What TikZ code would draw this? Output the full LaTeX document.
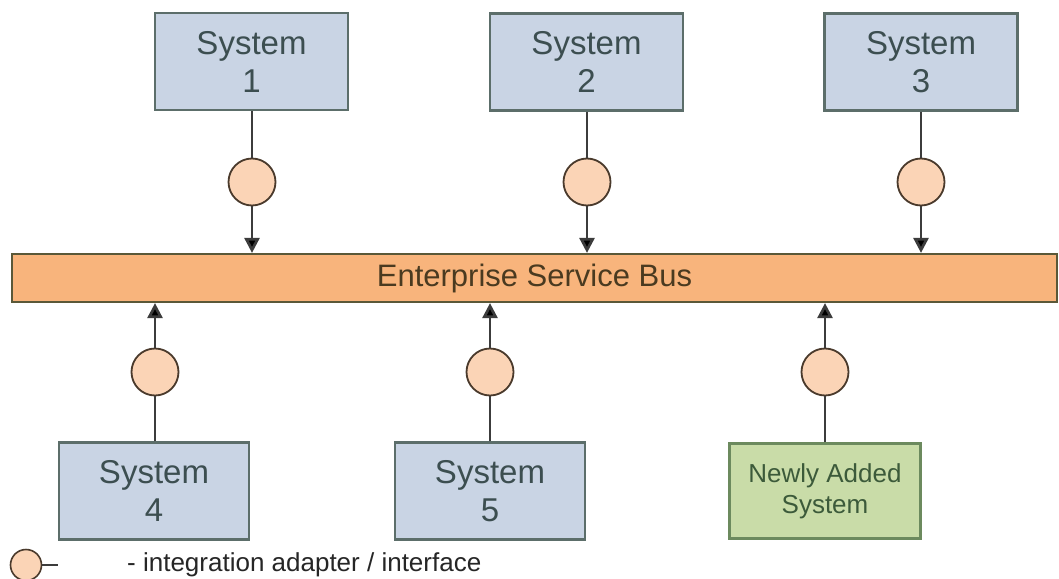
\documentclass[tikz,border=0pt]{standalone}
\usepackage{fontspec}
\setmainfont{Liberation Sans}
\usetikzlibrary{arrows.meta}
\definecolor{sysfill}{HTML}{C9D4E4}
\definecolor{sysdraw}{HTML}{5C6E6A}
\definecolor{systext}{HTML}{3C4E50}
\definecolor{esbfill}{HTML}{F8B47C}
\definecolor{esbdraw}{HTML}{5A5838}
\definecolor{esbtext}{HTML}{4A3A20}
\definecolor{adfill}{HTML}{FBD4B6}
\definecolor{addraw}{HTML}{4A3A2C}
\definecolor{newfill}{HTML}{C9DCA8}
\definecolor{newdraw}{HTML}{6C8A5E}
\definecolor{newtext}{HTML}{3C5A3A}
\definecolor{wire}{HTML}{3C3C3C}
\tikzset{
  sysbox/.style={draw=sysdraw, line width=2.2pt, fill=sysfill, minimum width=193pt, minimum height=97pt,
    align=center, text=systext, font=\fontsize{33}{38}\selectfont, inner sep=0pt},
  newbox/.style={draw=newdraw, line width=2.2pt, fill=newfill, minimum width=191pt, minimum height=95pt,
    align=center, text=newtext, font=\fontsize{26}{31}\selectfont, inner sep=0pt},
  adapter/.style={circle, draw=addraw, line width=1.8pt, fill=adfill, minimum size=47pt, inner sep=0pt},
  wireline/.style={draw=wire, line width=2.7pt},
  arr/.style={wireline, -{Triangle[length=15pt, width=15pt, fill=black]}},
}
\begin{document}
\begin{tikzpicture}[x=1pt, y=-1pt]
\useasboundingbox (0,0) rectangle (1059,578);
\fill[white] (0,0) rectangle (1059,578);
% bus
\node[draw=esbdraw, line width=2.2pt, fill=esbfill, minimum width=1045pt, minimum height=48pt, inner sep=0pt,
  text=esbtext, font=\fontsize{31}{34}\selectfont] (esb) at (534.5,278) {Enterprise Service Bus};
% top systems
\node[sysbox] (s1) at (251.5,61.5) {System\\1};
\node[sysbox] (s2) at (586.5,62) {System\\2};
\node[sysbox] (s3) at (921,62) {System\\3};
\node[adapter] (a1) at (252,182) {};
\node[adapter] (a2) at (587,182) {};
\node[adapter] (a3) at (921,182) {};
% bottom systems
\node[sysbox, minimum width=190pt] (s4) at (154,491) {System\\4};
\node[sysbox, minimum width=190pt] (s5) at (490,491) {System\\5};
\node[newbox] (s6) at (825,491) {Newly Added\\System};
\node[adapter] (a4) at (155,372) {};
\node[adapter] (a5) at (490,372) {};
\node[adapter] (a6) at (825,372) {};
% connectors
\draw[wireline] (s1.south -| a1) -- (a1.north);
\draw[arr] (a1.south) -- (a1 |- esb.north);
\draw[wireline] (s2.south -| a2) -- (a2.north);
\draw[arr] (a2.south) -- (a2 |- esb.north);
\draw[wireline] (s3.south -| a3) -- (a3.north);
\draw[arr] (a3.south) -- (a3 |- esb.north);
\draw[wireline] (s4.north -| a4) -- (a4.south);
\draw[arr] (a4.north) -- (a4 |- esb.south);
\draw[wireline] (s5.north -| a5) -- (a5.south);
\draw[arr] (a5.north) -- (a5 |- esb.south);
\draw[wireline] (s6.north -| a6) -- (a6.south);
\draw[arr] (a6.north) -- (a6 |- esb.south);
% legend
\node[adapter, minimum size=31pt, line width=1.6pt] (la) at (26,565) {};
\coordinate (lend) at (58,565);
\draw[wireline, line width=2.2pt] (la.east) -- (lend);
\node[anchor=west, inner sep=0pt, text=black!85, font=\fontsize{26}{30}\selectfont] (ltext) at (127,565)
  {- integration adapter / interface};
\end{tikzpicture}
\end{document}
